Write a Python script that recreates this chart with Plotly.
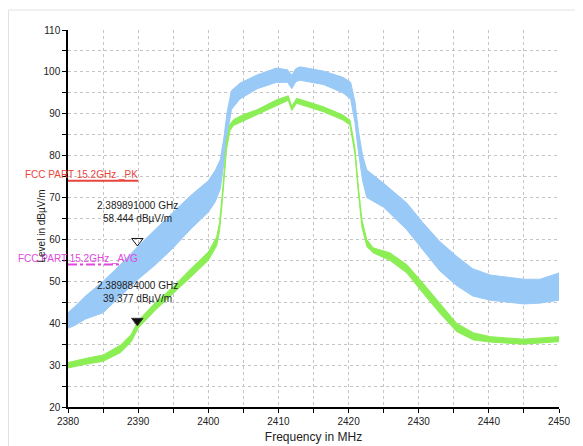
import plotly.graph_objects as go

# ---- data ----
blue_freq = [2380, 2381, 2382.5, 2385, 2387.5, 2390, 2392.5, 2395, 2397.5, 2400, 2401, 2401.7,
             2402.2, 2402.7, 2403.3, 2404.5, 2407, 2409.7, 2411.3, 2411.9, 2412.5, 2413.1,
             2416.4, 2419.2, 2420.3, 2420.9, 2421.4, 2422, 2422.6, 2425, 2428.3, 2430.6,
             2433, 2435.4, 2437.7, 2440.2, 2442.6, 2445, 2447.3, 2450]
blue_low = [38.8, 39.5, 41, 42.5, 46.5, 50.5, 54, 58, 62.5, 66.5, 69, 72,
            78, 85, 91, 93.5, 96, 97.5, 97.5, 96, 97.7, 98,
            97, 95, 93.5, 88, 81, 74, 70, 67.7, 62.3, 57.5,
            52.5, 49, 46.5, 45.5, 45, 44.6, 44.8, 45.5]
blue_high = [42.5, 44, 46.5, 50, 54, 58.4, 62.5, 66.5, 70.5, 74, 76.5, 79,
             84, 90.5, 95.5, 97.3, 99.3, 100.9, 100.5, 99.2, 100.8, 101.2,
             100.2, 98.7, 97.5, 93, 86, 80, 76.6, 73.4, 68.7, 64,
             59.5, 56, 53, 51.5, 51, 50.5, 50.5, 52]

green_freq = [2380, 2382.5, 2385, 2387.5, 2389, 2390, 2392.5, 2395, 2397.5, 2400, 2401.2, 2401.6,
              2402, 2402.6, 2403.1, 2403.6, 2405, 2407, 2409.7, 2411.4, 2411.9, 2412.6,
              2416.4, 2419.2, 2420.2, 2420.9, 2421.4, 2421.9, 2422.6, 2423.5, 2425.9, 2428.3,
              2430.6, 2433, 2435.4, 2437.8, 2440.2, 2442.5, 2444.9, 2447.5, 2450]
green_low = [29.3, 30.2, 30.9, 33, 35.5, 38.8, 43.2, 47, 51, 55, 58.5, 62,
             69, 81.5, 86, 87.2, 88.3, 89.7, 92, 93.2, 90.8, 92.5,
             90.5, 88.5, 87.3, 80.5, 71, 63, 58.3, 56.8, 55, 52,
             47.2, 42.4, 38, 36, 35.5, 35.3, 35, 35.3, 35.6]
green_high = [30.6, 31.6, 32.4, 34.8, 37.3, 40.6, 45, 48.7, 53, 57, 60.6, 64,
              71, 83.5, 87.5, 88.6, 89.8, 91, 93.3, 94.3, 91.8, 93.7,
              91.7, 89.7, 88.5, 82, 72.5, 64.7, 60, 58, 56.8, 54,
              49.6, 44.8, 40, 37.7, 36.8, 36.5, 36.2, 36.5, 36.8]

limit_freq = [2380, 2390]
limit_pk = [74, 74]
limit_avg = [54, 54]
limit_pk_label = "FCC PART 15.2GHz _PK"
limit_avg_label = "FCC PART 15.2GHz _AVG"

marker_freq = [2389.891, 2389.884]
marker_level = [58.444, 39.377]
marker_symbols = ["triangle-down-open", "triangle-down"]

x_range = [2380, 2450]
y_range = [20, 110]
x_title = "Frequency in MHz"
y_title = "Level in dBµV/m"

# ---- style ----
FONT = "Arial, Liberation Sans, sans-serif"
BLUE = "#99C9F7"
GREEN = "#8CEE55"
RED = "#E8453C"
MAGENTA = "#E048E0"
GRID = "#c4c4c4"
PAGE_OFF = 8                     # default body margin of the html page
W, H = 583 - PAGE_OFF, 446 - PAGE_OFF
ML, MR, MT, MB = 60, 24, 22, 39
plot_w = W - ML - MR
plot_h = H - MT - MB
px_per_unit = plot_h / (y_range[1] - y_range[0])
marker_lift = 5 / px_per_unit

fig = go.Figure()

# limit lines (under the traces)
fig.add_trace(go.Scatter(x=limit_freq, y=limit_avg, mode="lines",
                         line=dict(color=MAGENTA, width=2, dash="dashdot"), hoverinfo="skip"))
fig.add_trace(go.Scatter(x=limit_freq, y=limit_pk, mode="lines",
                         line=dict(color=RED, width=2), hoverinfo="skip"))

# blue (peak) band
fig.add_trace(go.Scatter(x=blue_freq, y=blue_low, mode="lines",
                         line=dict(color=BLUE, width=1), hoverinfo="skip"))
fig.add_trace(go.Scatter(x=blue_freq, y=blue_high, mode="lines", fill="tonexty",
                         fillcolor=BLUE, line=dict(color=BLUE, width=1), hoverinfo="skip"))
# green (average) band
fig.add_trace(go.Scatter(x=green_freq, y=green_low, mode="lines",
                         line=dict(color=GREEN, width=1), hoverinfo="skip"))
fig.add_trace(go.Scatter(x=green_freq, y=green_high, mode="lines", fill="tonexty",
                         fillcolor=GREEN, line=dict(color=GREEN, width=1), hoverinfo="skip"))

# markers
fig.add_trace(go.Scatter(x=marker_freq, y=[v + marker_lift for v in marker_level], mode="markers",
                         marker=dict(symbol=marker_symbols, size=10, color="#111111",
                                     line=dict(color="#333333", width=1)),
                         hoverinfo="skip"))

annotations = []
for f, v in zip(marker_freq, marker_level):
    annotations.append(dict(x=f, y=v, xref="x", yref="y", text=f"{f/1000:.9f} GHz",
                            showarrow=False, yshift=40, font=dict(family=FONT, size=10, color="#222222")))
    annotations.append(dict(x=f, y=v, xref="x", yref="y", text=f"{v:.3f} dBµV/m",
                            showarrow=False, yshift=27, font=dict(family=FONT, size=10, color="#222222")))

annotations.append(dict(x=limit_freq[1], y=limit_pk[1], xref="x", yref="y", text=limit_pk_label,
                        showarrow=False, xanchor="right", yanchor="bottom", yshift=-1, xshift=2,
                        font=dict(family=FONT, size=10, color=RED)))
annotations.append(dict(x=limit_freq[1], y=limit_avg[1], xref="x", yref="y", text=limit_avg_label,
                        showarrow=False, xanchor="right", yanchor="bottom", yshift=-1, xshift=2,
                        font=dict(family=FONT, size=10, color=MAGENTA)))
annotations.append(dict(x=-35 / plot_w, y=(MT + plot_h - (226 - PAGE_OFF)) / plot_h, xref="paper", yref="paper",
                        text=y_title, textangle=-90, showarrow=False,
                        font=dict(family=FONT, size=10, color="#222222")))

axis_common = dict(showline=True, linecolor="black", linewidth=1.5, ticks="outside", ticklen=4,
                   tickcolor="black", tickwidth=1.2, showgrid=True, gridcolor=GRID, gridwidth=1,
                   griddash="3px,3px", zeroline=False, automargin=False,
                   tickfont=dict(family=FONT, size=10, color="#222222"))

fig.update_layout(
    width=W, height=H, margin=dict(l=ML, r=MR, t=MT, b=MB),
    paper_bgcolor="white", plot_bgcolor="white", showlegend=False,
    xaxis=dict(range=x_range, dtick=10, tick0=2380, **axis_common,
               minor=dict(dtick=5, ticks="outside", ticklen=4, tickcolor="black", showgrid=True,
                          gridcolor=GRID, griddash="3px,3px"),
               title=dict(text=x_title, standoff=7, font=dict(family=FONT, size=12, color="#222222"))),
    yaxis=dict(range=y_range, dtick=10, tick0=20, **axis_common,
               minor=dict(dtick=5, ticks="outside", ticklen=4, tickcolor="black", showgrid=True,
                          gridcolor=GRID, griddash="3px,3px")),
    annotations=annotations,
    shapes=[dict(type="rect", xref="paper", yref="paper",
                 x0=-(ML - 0.5) / plot_w, x1=1.2, y0=-0.3, y1=(plot_h + MT - 2) / plot_h,
                 line=dict(color="#e2e2e2", width=1), layer="below")],
)

fig.write_html("out.html")
